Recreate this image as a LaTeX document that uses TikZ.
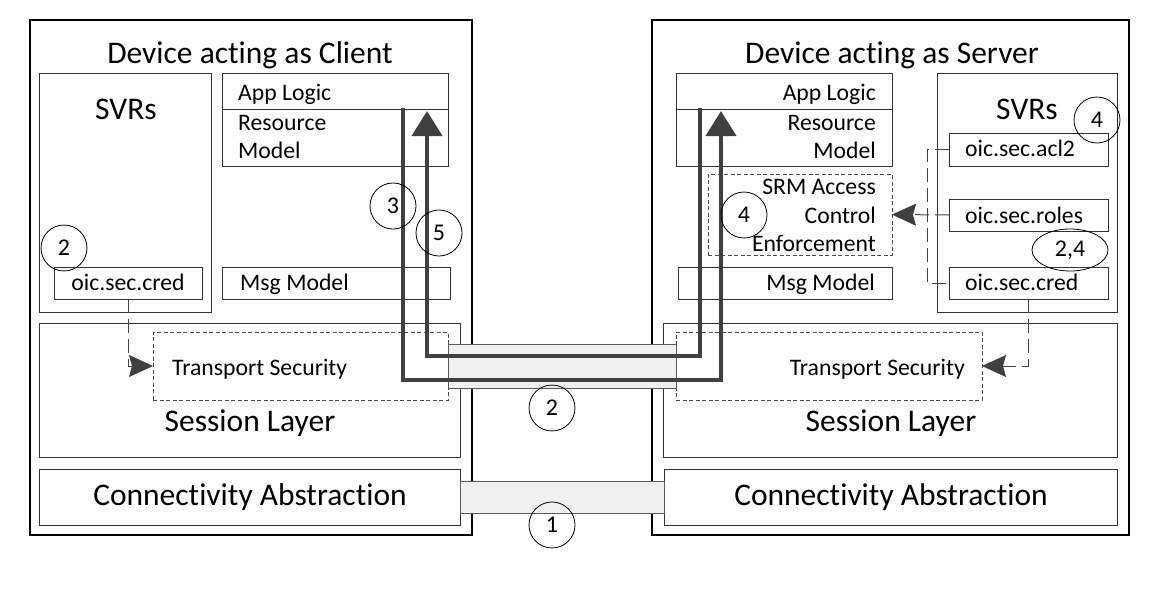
\documentclass[tikz,border=0pt]{standalone}
\usepackage{fontspec}
\setmainfont{Carlito}[Ligatures=NoCommon]
\usetikzlibrary{arrows.meta,shapes.geometric,fit}
\begin{document}
\begin{tikzpicture}[x=1pt,y=-1pt,
 outer/.style={draw=black,line width=1.5pt,inner sep=0pt,outer sep=0pt},
 ibox/.style={draw=black!80,line width=0.9pt,inner sep=0pt,outer sep=0pt},
 dbox/.style={draw=black!70,line width=0.9pt,dash pattern=on 4pt off 2.5pt,inner sep=0pt,outer sep=0pt},
 bar/.style={draw=black!65,line width=1pt,fill=black!6,inner sep=0pt,outer sep=0pt},
 big/.style={font=\fontsize{31.5}{36}\selectfont,inner sep=0pt},
 mid/.style={font=\fontsize{23.7}{28}\selectfont,inner sep=0pt},
 num/.style={draw=black,line width=0.8pt,circle,minimum size=46pt,inner sep=0pt,font=\fontsize{24}{28}\selectfont},
 numell/.style={draw=black,line width=0.8pt,ellipse,minimum width=76pt,minimum height=42pt,inner sep=0pt,font=\fontsize{24}{28}\selectfont},
 flow/.style={draw=black!75,line width=4pt},
 flowtip/.style={-{Triangle[length=25pt,width=30pt]}},
 dline/.style={draw=black!75,line width=1pt,dash pattern=on 14pt off 6pt},
 dtip/.style={-{Stealth[length=24pt,width=22pt,inset=3pt]}}
]
\useasboundingbox (0,0) rectangle (1160,600);

% ---------- Client ----------
\node[outer,fit={(30,20) (472,535)}] (cout) {};
\node[ibox,fit={(39,73) (211,312)}] (csvr) {};
\node[ibox,fit={(222,73) (448,109)}] (capp) {};
\node[ibox,fit={(222,109) (448,166)}] (cres) {};
\node[ibox,fit={(54,267) (202,299)}] (ccred) {};
\node[ibox,fit={(222,267) (450,299)}] (cmsg) {};
\node[ibox,fit={(39,323) (460,457)}] (csess) {};
\node[dbox,fit={(153,332) (448,400)}] (ctrans) {};
\node[ibox,fit={(39,469) (460,525)}] (cconn) {};

\node[big,anchor=base] (ctitle) at (250,63) {Device acting as Client};
\node[big,anchor=base] (csvrt) at (126,119) {SVRs};
\node[mid,anchor=base west] (capt) at (238,100) {App Logic};
\node[mid,anchor=base west] (cres1) at (238,130) {Resource};
\node[mid,anchor=base west] (cres2) at (238,158) {Model};
\node[mid,anchor=base] (ccredt) at (128,290) {oic.sec.cred};
\node[mid,anchor=base west] (cmsgt) at (240,290) {Msg Model};
\node[mid,anchor=base west] (ctst) at (172,375) {Transport Security};
\node[big,anchor=base] (csesst) at (250,431) {Session Layer};
\node[big,anchor=base] (cconnt) at (250,505) {Connectivity Abstraction};

% ---------- Server ----------
\node[outer,fit={(652,20) (1129,535)}] (sout) {};
\node[ibox,fit={(676,73) (892,109)}] (sapp) {};
\node[ibox,fit={(676,109) (892,166)}] (sres) {};
\node[ibox,fit={(937,73) (1117,312)}] (ssvr) {};
\node[ibox,fit={(949,133) (1108,166)}] (sacl) {};
\node[ibox,fit={(949,199) (1108,231)}] (sroles) {};
\node[ibox,fit={(949,267) (1108,299)}] (scred) {};
\node[dbox,fit={(708,174) (892,255)}] (ssrm) {};
\node[ibox,fit={(678,267) (892,299)}] (smsg) {};
\node[ibox,fit={(663,323) (1117,457)}] (ssess) {};
\node[dbox,fit={(676,332) (982,400)}] (strans) {};
\node[ibox,fit={(664,469) (1117,525)}] (sconn) {};

\node[big,anchor=base] (stitle) at (892,63) {Device acting as Server};
\node[big,anchor=base] (ssvrt) at (1027,119) {SVRs};
\node[mid,anchor=base east] (sapt) at (876,100) {App Logic};
\node[mid,anchor=base east] (sres1) at (876,130) {Resource};
\node[mid,anchor=base east] (sres2) at (876,158) {Model};
\node[mid,anchor=base east] (srm1) at (876,194) {SRM Access};
\node[mid,anchor=base east] (srm2) at (876,223) {Control};
\node[mid,anchor=base east] (srm3) at (876,251) {Enforcement};
\node[mid,anchor=base east] (smsgt) at (875,290) {Msg Model};
\node[mid,anchor=base west] (saclt) at (965,156) {oic.sec.acl2};
\node[mid,anchor=base west] (srolest) at (965,223) {oic.sec.roles};
\node[mid,anchor=base west] (scredt) at (965,290) {oic.sec.cred};
\node[mid,anchor=base east] (stst) at (965,375) {Transport Security};
\node[big,anchor=base] (ssesst) at (891,431) {Session Layer};
\node[big,anchor=base] (sconnt) at (891,505) {Connectivity Abstraction};

% ---------- Links between devices ----------
\node[bar,fit={(448,344) (676,388)}] (bar2) {};
\node[bar,fit={(460,481) (664,513)}] (bar1) {};

\coordinate (a1) at (403,108);
\coordinate (a2) at (403,380);
\coordinate (a3) at (721,380);
\coordinate (a4) at (721,111);
\coordinate (b1) at (700,108);
\coordinate (b2) at (700,356);
\coordinate (b3) at (427,356);
\coordinate (b4) at (427,111);
\draw[flow,flowtip] (a1) -- (a2) -- (a3) -- (a4);
\draw[flow,flowtip] (b1) -- (b2) -- (b3) -- (b4);

% ---------- Dashed connectors ----------
\draw[dline,dtip] (ccred.south) |- (ctrans.west);
\draw[dline,dtip] (scred.south) |- (strans.east);
\draw[dline] (sacl.west) -- ++(-22,0) |- (scred.west);
\draw[dline,dtip] (sroles.west) -- (ssrm.east);

% ---------- Step numbers ----------
\node[num] (n2c) at (64,248) {2};
\node[num] (n3) at (393,206) {3};
\node[num] (n5) at (439,233) {5};
\node[num] (n2m) at (552,408) {2};
\node[num] (n1) at (552,525) {1};
\node[num] (n4a) at (1097,120) {4};
\node[num] (n4b) at (744,215) {4};
\node[numell] (n24) at (1070,250) {2,4};
\end{tikzpicture}
\end{document}
